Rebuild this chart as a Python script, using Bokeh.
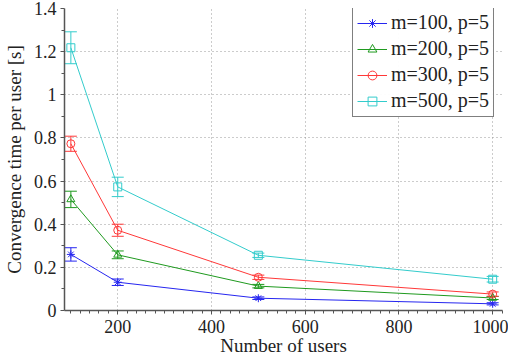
from bokeh.plotting import figure
from bokeh.models import ColumnDataSource, Whisker, Range1d, SingleIntervalTicker, FixedTicker, Legend, LegendItem
from bokeh.embed import file_html
from bokeh.resources import INLINE

users = [100, 200, 500, 1000]
series_names = ["m=100, p=5", "m=200, p=5", "m=300, p=5", "m=500, p=5"]
m100 = [0.26, 0.131, 0.057, 0.031]
m100_err = [0.031, 0.015, 0.006, 0.005]
m200 = [0.515, 0.258, 0.113, 0.058]
m200_err = [0.038, 0.018, 0.008, 0.007]
m300 = [0.773, 0.372, 0.154, 0.076]
m300_err = [0.035, 0.028, 0.010, 0.010]
m500 = [1.218, 0.573, 0.256, 0.145]
m500_err = [0.074, 0.045, 0.010, 0.013]
y_ticks = [0, 0.2, 0.4, 0.6, 0.8, 1.0, 1.2, 1.4]
y_tick_labels = ["0", "0.2", "0.4", "0.6", "0.8", "1", "1.2", "1.4"]
x_label = "Number of users"
y_label = "Convergence time per user [s]"

colors = ["#2626f0", "#1f9a1f", "#ff3838", "#33cccc"]
markers = ["asterisk", "triangle", "circle", "square"]
values = [m100, m200, m300, m500]
errors = [m100_err, m200_err, m300_err, m500_err]

FONT = "Liberation Serif"

p = figure(width=508, height=358, output_backend="svg", toolbar_location=None,
           x_range=Range1d(86.4, 1021), y_range=Range1d(0, 1.4),
           min_border_left=64, min_border_right=6, min_border_top=8, min_border_bottom=48)
p.styles = {"position": "absolute", "top": "0px", "left": "0px"}
p.outline_line_color = None

items = []
for name, vals, errs, col, mk in zip(series_names, values, errors, colors, markers):
    src = ColumnDataSource(dict(x=users, y=vals,
                                lo=[v - e for v, e in zip(vals, errs)],
                                hi=[v + e for v, e in zip(vals, errs)]))
    w = Whisker(source=src, base="x", lower="lo", upper="hi", line_color=col, line_width=1)
    w.upper_head.size = 12
    w.lower_head.size = 12
    w.upper_head.line_color = col
    w.lower_head.line_color = col
    p.add_layout(w)
    r1 = p.line("x", "y", source=src, line_color=col, line_width=1)
    r2 = p.scatter("x", "y", source=src, marker=mk, size=8, line_color=col,
                   fill_color=col if mk == "asterisk" else None, line_width=1)
    items.append(LegendItem(label=name, renderers=[r1, r2]))

legend = Legend(items=items, location=(288, 193))
legend.label_text_font = FONT
legend.label_text_font_size = "20px"
legend.label_text_color = "#222222"
legend.border_line_color = "black"
legend.border_line_width = 1.5
legend.margin = 0
legend.padding = 4
legend.spacing = 3
legend.glyph_height = 22
legend.glyph_width = 30
legend.label_height = 22
legend.label_standoff = 4
p.add_layout(legend)

p.xaxis.ticker = SingleIntervalTicker(interval=200, num_minor_ticks=10)
p.yaxis.ticker = FixedTicker(ticks=y_ticks, minor_ticks=[0.1, 0.3, 0.5, 0.7, 0.9, 1.1, 1.3])
p.yaxis.major_label_overrides = {t: l for t, l in zip(y_ticks, y_tick_labels)}
p.yaxis.major_label_overrides.update({float(t): l for t, l in zip(y_ticks, y_tick_labels)})

for ax in (p.xaxis[0], p.yaxis[0]):
    ax.axis_line_color = "#555555"
    ax.axis_line_width = 1.5
    ax.major_tick_line_color = "#555555"
    ax.minor_tick_line_color = "#555555"
    ax.major_tick_out = 4
    ax.major_tick_in = 0
    ax.minor_tick_out = 3
    ax.minor_tick_in = 0
    ax.major_label_text_font = FONT
    ax.major_label_text_font_size = "18px"
    ax.major_label_text_color = "#222222"
    ax.axis_label_text_font = FONT
    ax.axis_label_text_font_size = "19px"
    ax.axis_label_text_font_style = "normal"
    ax.axis_label_text_color = "#222222"
p.xaxis.axis_label = x_label
p.yaxis.axis_label = y_label
p.xaxis.major_label_standoff = 5
p.yaxis.major_label_standoff = 4
p.xaxis.axis_label_standoff = -1
p.yaxis.axis_label_standoff = 6

p.grid.grid_line_color = "#999999"
p.grid.grid_line_dash = "1 3"
p.grid.grid_line_width = 1

open("out.html", "w").write(file_html(p, INLINE))
